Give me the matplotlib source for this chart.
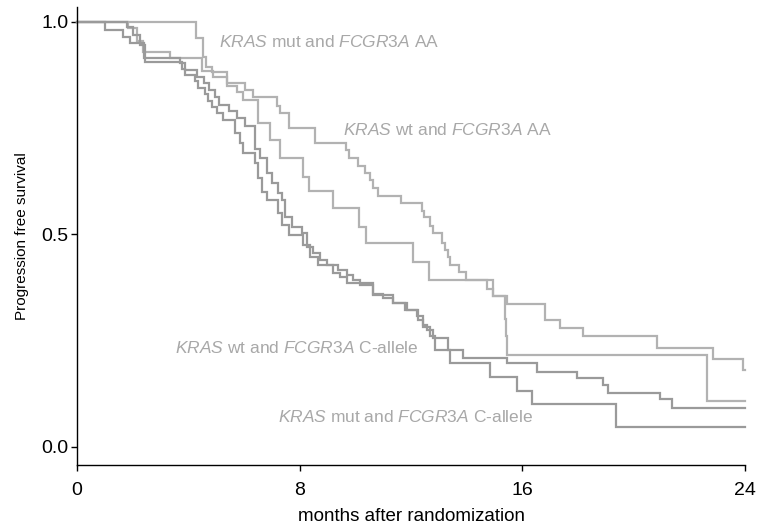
import numpy as np
import matplotlib
matplotlib.use("Agg")
import matplotlib.pyplot as plt

# ---------------- data ----------------
x_ticks = [0, 8, 16, 24]
y_ticks = [0.0, 0.5, 1.0]
x_label = "months after randomization"
y_label = "Progression free survival"

# KRAS mut and FCGR3A AA
mutAA_t = [4.28, 4.52, 4.63, 4.86, 5.38, 6.04, 6.31, 7.18, 7.30, 7.60, 8.55,
           9.66, 9.76, 10.11, 10.35, 10.53, 10.65, 10.83, 11.63, 12.39, 12.48,
           12.68, 12.80, 13.10, 13.22, 13.34, 13.40, 13.74, 13.96, 14.72, 14.96,
           15.44, 16.80, 17.36, 18.17, 20.83, 22.84, 23.94]
mutAA_s = [0.962, 0.917, 0.895, 0.883, 0.856, 0.840, 0.824, 0.802, 0.785, 0.750, 0.715,
           0.699, 0.679, 0.661, 0.644, 0.627, 0.609, 0.591, 0.573, 0.556, 0.540,
           0.520, 0.503, 0.481, 0.464, 0.448, 0.428, 0.412, 0.393, 0.371, 0.354,
           0.336, 0.299, 0.279, 0.260, 0.234, 0.208, 0.182]

# KRAS wt and FCGR3A AA
wtAA_t = [1.85, 2.14, 2.38, 3.34, 4.48, 4.90, 5.40, 5.75, 5.95, 6.51, 6.93, 7.29,
          8.11, 8.35, 9.19, 10.14, 10.38, 12.08, 12.66, 14.96, 15.38, 15.42, 15.46,
          22.63]
wtAA_s = [0.985, 0.955, 0.929, 0.914, 0.885, 0.870, 0.850, 0.835, 0.816, 0.762, 0.722, 0.679,
          0.636, 0.601, 0.562, 0.518, 0.479, 0.434, 0.393, 0.354, 0.300, 0.260, 0.216,
          0.107]

# KRAS mut and FCGR3A C-allele
mutC_t = [1.78, 2.00, 2.26, 2.44, 3.76, 3.88, 4.24, 4.36, 4.60, 4.72, 4.84, 5.02,
          5.26, 5.68, 5.86, 5.98, 6.40, 6.51, 6.64, 6.82, 7.23, 7.36, 7.60, 8.13,
          8.37, 8.67, 9.39, 9.69, 9.93, 10.17, 10.65, 11.37, 11.85, 12.20, 12.44,
          12.68, 12.87, 13.40, 14.84, 15.80, 16.34, 19.35]
mutC_s = [0.988, 0.970, 0.945, 0.906, 0.890, 0.875, 0.860, 0.845, 0.830, 0.815, 0.800, 0.785,
          0.769, 0.738, 0.715, 0.691, 0.667, 0.632, 0.600, 0.581, 0.550, 0.522, 0.499, 0.475,
          0.448, 0.428, 0.416, 0.405, 0.393, 0.381, 0.358, 0.338, 0.322, 0.307, 0.283,
          0.260, 0.228, 0.198, 0.165, 0.132, 0.100, 0.048]

# KRAS wt and FCGR3A C-allele
wtC_t = [1.00, 1.67, 1.90, 2.40, 3.70, 3.88, 4.30, 4.55, 4.75, 4.95, 5.10, 5.45,
         5.75, 6.05, 6.40, 6.58, 6.82, 7.00, 7.23, 7.36, 7.47, 7.71, 8.07, 8.25,
         8.49, 8.73, 8.97, 9.21, 9.45, 9.69, 10.65, 11.00, 11.37, 11.79, 12.26,
         12.44, 12.56, 12.80, 13.34, 13.88, 15.44, 16.52, 17.96, 18.91, 19.09,
         20.95, 21.37]
wtC_s = [0.981, 0.965, 0.950, 0.915, 0.903, 0.887, 0.871, 0.856, 0.840, 0.824, 0.805, 0.790,
         0.773, 0.754, 0.700, 0.679, 0.644, 0.620, 0.597, 0.581, 0.542, 0.518, 0.503, 0.471,
         0.456, 0.440, 0.428, 0.409, 0.401, 0.385, 0.360, 0.350, 0.338, 0.322, 0.299,
         0.287, 0.275, 0.256, 0.228, 0.209, 0.197, 0.177, 0.162, 0.146, 0.128,
         0.113, 0.092]

labels = [
    (r"$\mathit{KRAS}$ mut and $\mathit{FCGR3A}$ AA", 5.10, 0.953),
    (r"$\mathit{KRAS}$ wt and $\mathit{FCGR3A}$ AA", 9.56, 0.746),
    (r"$\mathit{KRAS}$ wt and $\mathit{FCGR3A}$ C-allele", 3.52, 0.233),
    (r"$\mathit{KRAS}$ mut and $\mathit{FCGR3A}$ C-allele", 7.22, 0.071),
]

# ---------------- styling ----------------
plt.rcParams["font.family"] = ["Liberation Sans", "DejaVu Sans"]
plt.rcParams["mathtext.fontset"] = "custom"
plt.rcParams["mathtext.rm"] = "Liberation Sans"
plt.rcParams["mathtext.it"] = "Liberation Sans:italic"

light = "#b2b2b2"
dark = "#9a9a9a"
label_col = "#a8a8a8"
axis_font = ["Liberation Sans Narrow", "Liberation Sans"]

fig = plt.figure(figsize=(7.58, 5.25), dpi=100)
ax = fig.add_axes([77 / 758, 60 / 525, 668 / 758, 458 / 525])

x_end = x_ticks[-1]
for t, s, col in [(mutAA_t, mutAA_s, light), (wtAA_t, wtAA_s, light),
                  (mutC_t, mutC_s, dark), (wtC_t, wtC_s, dark)]:
    xs = np.r_[0.0, t, x_end]
    ys = np.r_[1.0, s, s[-1]]
    ax.step(xs, ys, where="post", color=col, lw=1.6, clip_on=False,
            solid_joinstyle="miter")

for txt, x, y in labels:
    ax.text(x, y, txt, color=label_col, fontsize=12.5, ha="left", va="center")

ax.set_xlim(0, 24)
ax.set_ylim(-0.0424, 1.035)
ax.set_xticks(x_ticks)
ax.set_yticks(y_ticks)
ax.set_yticklabels([f"{v:.1f}" for v in y_ticks])
for sp in ["top", "right"]:
    ax.spines[sp].set_visible(False)
for sp in ["left", "bottom"]:
    ax.spines[sp].set_linewidth(1.0)
ax.tick_params(direction="out", length=4.5, width=1.0, labelsize=14)
ax.tick_params(axis="x", pad=8)
ax.tick_params(axis="y", pad=1.5)
for lab in ax.get_xticklabels() + ax.get_yticklabels():
    lab.set_family(axis_font)
ax.set_xlabel(x_label, fontsize=13.5, family=axis_font, labelpad=6)
ax.set_ylabel(y_label, fontsize=11, family=axis_font, labelpad=9)

fig.savefig("out.png", dpi=100)
